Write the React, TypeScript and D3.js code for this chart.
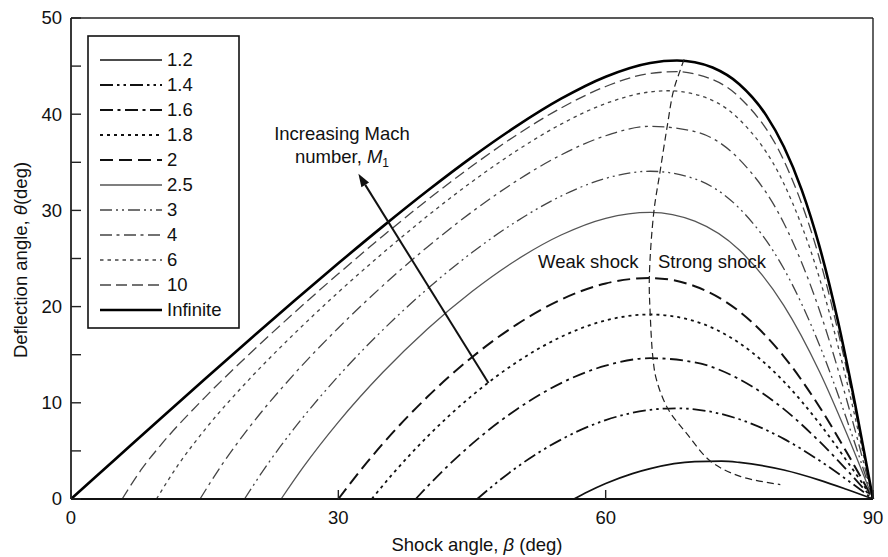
import React from "react";
import * as d3 from "d3";

const W = 888;
const H = 557;
const X0 = 71, X1 = 873, Y0 = 499, Y1 = 18;

const xTicks = [0, 30, 60, 90];
const yTicks = [0, 10, 20, 30, 40, 50];
const yMinorTicks = [5, 15, 25, 35, 45];

const machLabels = ["1.2", "1.4", "1.6", "1.8", "2", "2.5", "3", "4", "6", "10", "Infinite"];

// [shock angle beta, deflection angle theta]
const m12 = [[56.44,0],[58,0.75],[60,1.61],[63,2.64],[65,3.16],[70,3.88],[73,3.93],[75,3.80],[80,3.01],[84,1.96],[87,1.01],[90,0]];
const m14 = [[45.58,0],[48,1.87],[50,3.28],[55,6.18],[60,8.20],[65,9.27],[68,9.43],[70,9.32],[75,8.29],[80,6.25],[84,3.99],[87,2.05],[90,0]];
const m16 = [[38.68,0],[41,2.26],[45,5.73],[50,9.31],[55,12.05],[60,13.86],[65,14.64],[70,14.21],[75,12.46],[80,9.34],[84,5.97],[87,3.07],[90,0]];
const m18 = [[33.75,0],[36,2.50],[40,6.49],[45,10.74],[50,14.21],[55,16.85],[60,18.57],[65,19.18],[70,18.48],[75,16.21],[80,12.21],[84,7.84],[87,4.04],[90,0]];
const m20 = [[30,0],[32,2.41],[35,5.75],[40,10.62],[45,14.74],[50,18.13],[55,20.73],[60,22.41],[65,22.97],[70,22.12],[75,19.49],[80,14.81],[84,9.57],[87,4.94],[90,0]];
const m25 = [[23.58,0],[26,3.23],[30,7.99],[35,13.17],[40,17.68],[45,21.57],[50,24.85],[55,27.44],[60,29.18],[65,29.80],[70,28.88],[75,25.88],[80,20.10],[84,13.22],[87,6.90],[90,0]];
const m30 = [[19.47,0],[22,3.54],[25,7.28],[30,12.77],[35,17.58],[40,21.85],[45,25.62],[50,28.86],[55,31.49],[60,33.33],[65,34.07],[70,33.28],[75,30.22],[80,23.93],[84,15.99],[87,8.42],[90,0]];
const m40 = [[14.48,0],[17,3.65],[20,7.44],[25,12.94],[30,17.78],[35,22.18],[40,26.20],[45,29.85],[50,33.07],[55,35.77],[60,37.76],[65,38.74],[70,38.20],[75,35.30],[80,28.66],[84,19.60],[87,10.47],[90,0]];
const m60 = [[9.59,0],[12,3.51],[15,7.18],[20,12.44],[25,17.13],[30,21.49],[35,25.57],[40,29.42],[45,32.98],[50,36.20],[55,38.97],[60,41.11],[65,42.32],[67,42.44],[70,42.08],[75,39.45],[80,32.78],[84,22.94],[87,12.43],[90,0]];
const m100 = [[5.74,0],[8,3.20],[10,5.53],[15,10.54],[20,15.05],[25,19.32],[30,23.41],[35,27.34],[40,31.09],[45,34.61],[50,37.84],[55,40.65],[60,42.88],[65,44.24],[68,44.42],[70,44.18],[75,41.76],[80,35.17],[84,24.97],[87,13.67],[90,0]];
const mInf = [[0,0],[5,4.16],[10,8.32],[15,12.44],[20,16.53],[25,20.56],[30,24.50],[35,28.34],[40,32.04],[45,35.54],[50,38.76],[55,41.61],[60,43.90],[65,45.33],[68,45.58],[70,45.40],[72,44.85],[75,43.12],[78,39.90],[80,36.62],[82,32.14],[84,26.24],[86,18.76],[88,9.83],[90,0]];

// locus of maximum deflection (weak / strong boundary)
const maxLocus = [[68.8,45.7],[68.3,44.4],[67.6,42.4],[66.9,38.7],[66.1,34.0],[65.4,29.8],[64.9,23.0],[65.0,19.2],[65.3,14.7],[65.7,12.4],[67.0,9.35],[69.1,6.8],[71.8,3.9],[75.1,2.35],[79.6,1.5]];

// annotation arrow: tail, tip
const arrowPts = [[46.85, 12.06], [32.25, 33.8]];

const seriesData = [m12, m14, m16, m18, m20, m25, m30, m40, m60, m100, mInf];

const styles = [
  { stroke: "#111", width: 1.7, dash: "" },
  { stroke: "#111", width: 1.8, dash: "13 4 2.5 4 2.5 4" },
  { stroke: "#111", width: 1.8, dash: "13 4.5 3 4.5" },
  { stroke: "#111", width: 1.8, dash: "3 4" },
  { stroke: "#111", width: 2.0, dash: "13 6" },
  { stroke: "#555", width: 1.3, dash: "" },
  { stroke: "#444", width: 1.3, dash: "12 4 2 4 2 4" },
  { stroke: "#444", width: 1.3, dash: "12 4.5 3 4.5" },
  { stroke: "#444", width: 1.3, dash: "3.5 4" },
  { stroke: "#444", width: 1.3, dash: "11 5" },
  { stroke: "#000", width: 2.6, dash: "" },
];

const FONT = "'Liberation Sans', Arial, sans-serif";
const FS = 18.5;

export default function App() {
  const x = d3.scaleLinear().domain([0, 90]).range([X0, X1]);
  const y = d3.scaleLinear().domain([0, 50]).range([Y0, Y1]);
  const line = d3
    .line<number[]>()
    .x((d) => x(d[0]))
    .y((d) => y(d[1]))
    .curve(d3.curveMonotoneX);
  const locusLine = d3
    .line<number[]>()
    .x((d) => x(d[0]))
    .y((d) => y(d[1]))
    .curve(d3.curveCatmullRom.alpha(0.5));

  const [tail, tip] = arrowPts;
  const tx = x(tail[0]), ty = y(tail[1]);
  const hx = x(tip[0]), hy = y(tip[1]);
  const ang = Math.atan2(hy - ty, hx - tx);
  const hl = 13, hw = 4.5;
  const bx = hx - hl * Math.cos(ang), by = hy - hl * Math.sin(ang);
  const head = `M${hx},${hy} L${bx + hw * Math.sin(ang)},${by - hw * Math.cos(ang)} L${bx - hw * Math.sin(ang)},${by + hw * Math.cos(ang)} Z`;

  const legX = 88, legY = 36, legW = 151, legH = 292;
  const rowY = (i: number) => 60 + i * 25;

  return (
    <svg
      width={W}
      height={H}
      style={{ position: "absolute", left: 0, top: 0, background: "#fff" }}
      fontFamily={FONT}
    >
      <rect x={0} y={0} width={W} height={H} fill="#fff" />
      {/* curves */}
      {seriesData.map((s, i) => (
        <path
          key={machLabels[i]}
          d={line(s) || ""}
          fill="none"
          stroke={styles[i].stroke}
          strokeWidth={styles[i].width}
          strokeDasharray={styles[i].dash || undefined}
          strokeLinejoin="round"
        />
      ))}
      {/* max deflection locus */}
      <path d={locusLine(maxLocus) || ""} fill="none" stroke="#222" strokeWidth={1.2} strokeDasharray="7 4" />

      {/* frame */}
      <line x1={X0} x2={X1} y1={Y1} y2={Y1} stroke="#222" strokeWidth={1.4} />
      <line x1={X1} x2={X1} y1={Y1} y2={Y0} stroke="#222" strokeWidth={1.4} />
      <line x1={X0} x2={X0} y1={Y1} y2={Y0} stroke="#222" strokeWidth={1.8} />
      <line x1={X0} x2={X1} y1={Y0} y2={Y0} stroke="#111" strokeWidth={2} />

      {/* ticks */}
      {yTicks.map((t) => (
        <g key={"y" + t}>
          <line x1={X0} x2={X0 + 10} y1={y(t)} y2={y(t)} stroke="#222" strokeWidth={1.4} />
          <text x={62} y={y(t)} dy="0.35em" textAnchor="end" fontSize={FS} fill="#111">
            {t}
          </text>
        </g>
      ))}
      {yMinorTicks.map((t) => (
        <line key={"ym" + t} x1={X0} x2={X0 + 10} y1={y(t)} y2={y(t)} stroke="#222" strokeWidth={1.4} />
      ))}
      {xTicks.map((t) => (
        <g key={"x" + t}>
          <line x1={x(t)} x2={x(t)} y1={Y0} y2={Y0 - 9} stroke="#222" strokeWidth={1.4} />
          <text x={x(t)} y={524} textAnchor="middle" fontSize={FS} fill="#111">
            {t}
          </text>
        </g>
      ))}

      {/* axis titles */}
      <text x={477} y={551} textAnchor="middle" fontSize={FS} fill="#111">
        Shock angle, <tspan fontStyle="italic">β</tspan> (deg)
      </text>
      <text transform="translate(27,260) rotate(-90)" textAnchor="middle" fontSize={FS} fill="#111">
        Deflection angle, <tspan fontStyle="italic">θ</tspan>(deg)
      </text>

      {/* annotations */}
      <line x1={tx} y1={ty} x2={bx} y2={by} stroke="#111" strokeWidth={2} />
      <path d={head} fill="#111" />
      <text x={342} y={140} textAnchor="middle" fontSize={FS} fill="#111">
        Increasing Mach
      </text>
      <text x={342} y={163} textAnchor="middle" fontSize={FS} fill="#111">
        number, <tspan fontStyle="italic">M</tspan>
        <tspan fontSize={12} dy={4}>1</tspan>
      </text>
      <text x={538} y={268} fontSize={FS} fill="#111">
        Weak shock
      </text>
      <text x={658} y={268} fontSize={FS} fill="#111">
        Strong shock
      </text>

      {/* legend */}
      <rect x={legX} y={legY} width={legW} height={legH} fill="#fff" stroke="#111" strokeWidth={1.6} />
      {machLabels.map((lab, i) => (
        <g key={"leg" + lab}>
          <line
            x1={100}
            x2={162}
            y1={rowY(i)}
            y2={rowY(i)}
            stroke={styles[i].stroke}
            strokeWidth={styles[i].width}
            strokeDasharray={styles[i].dash || undefined}
          />
          <text x={167} y={rowY(i)} dy="0.35em" fontSize={FS} fill="#111">
            {lab}
          </text>
        </g>
      ))}
    </svg>
  );
}
